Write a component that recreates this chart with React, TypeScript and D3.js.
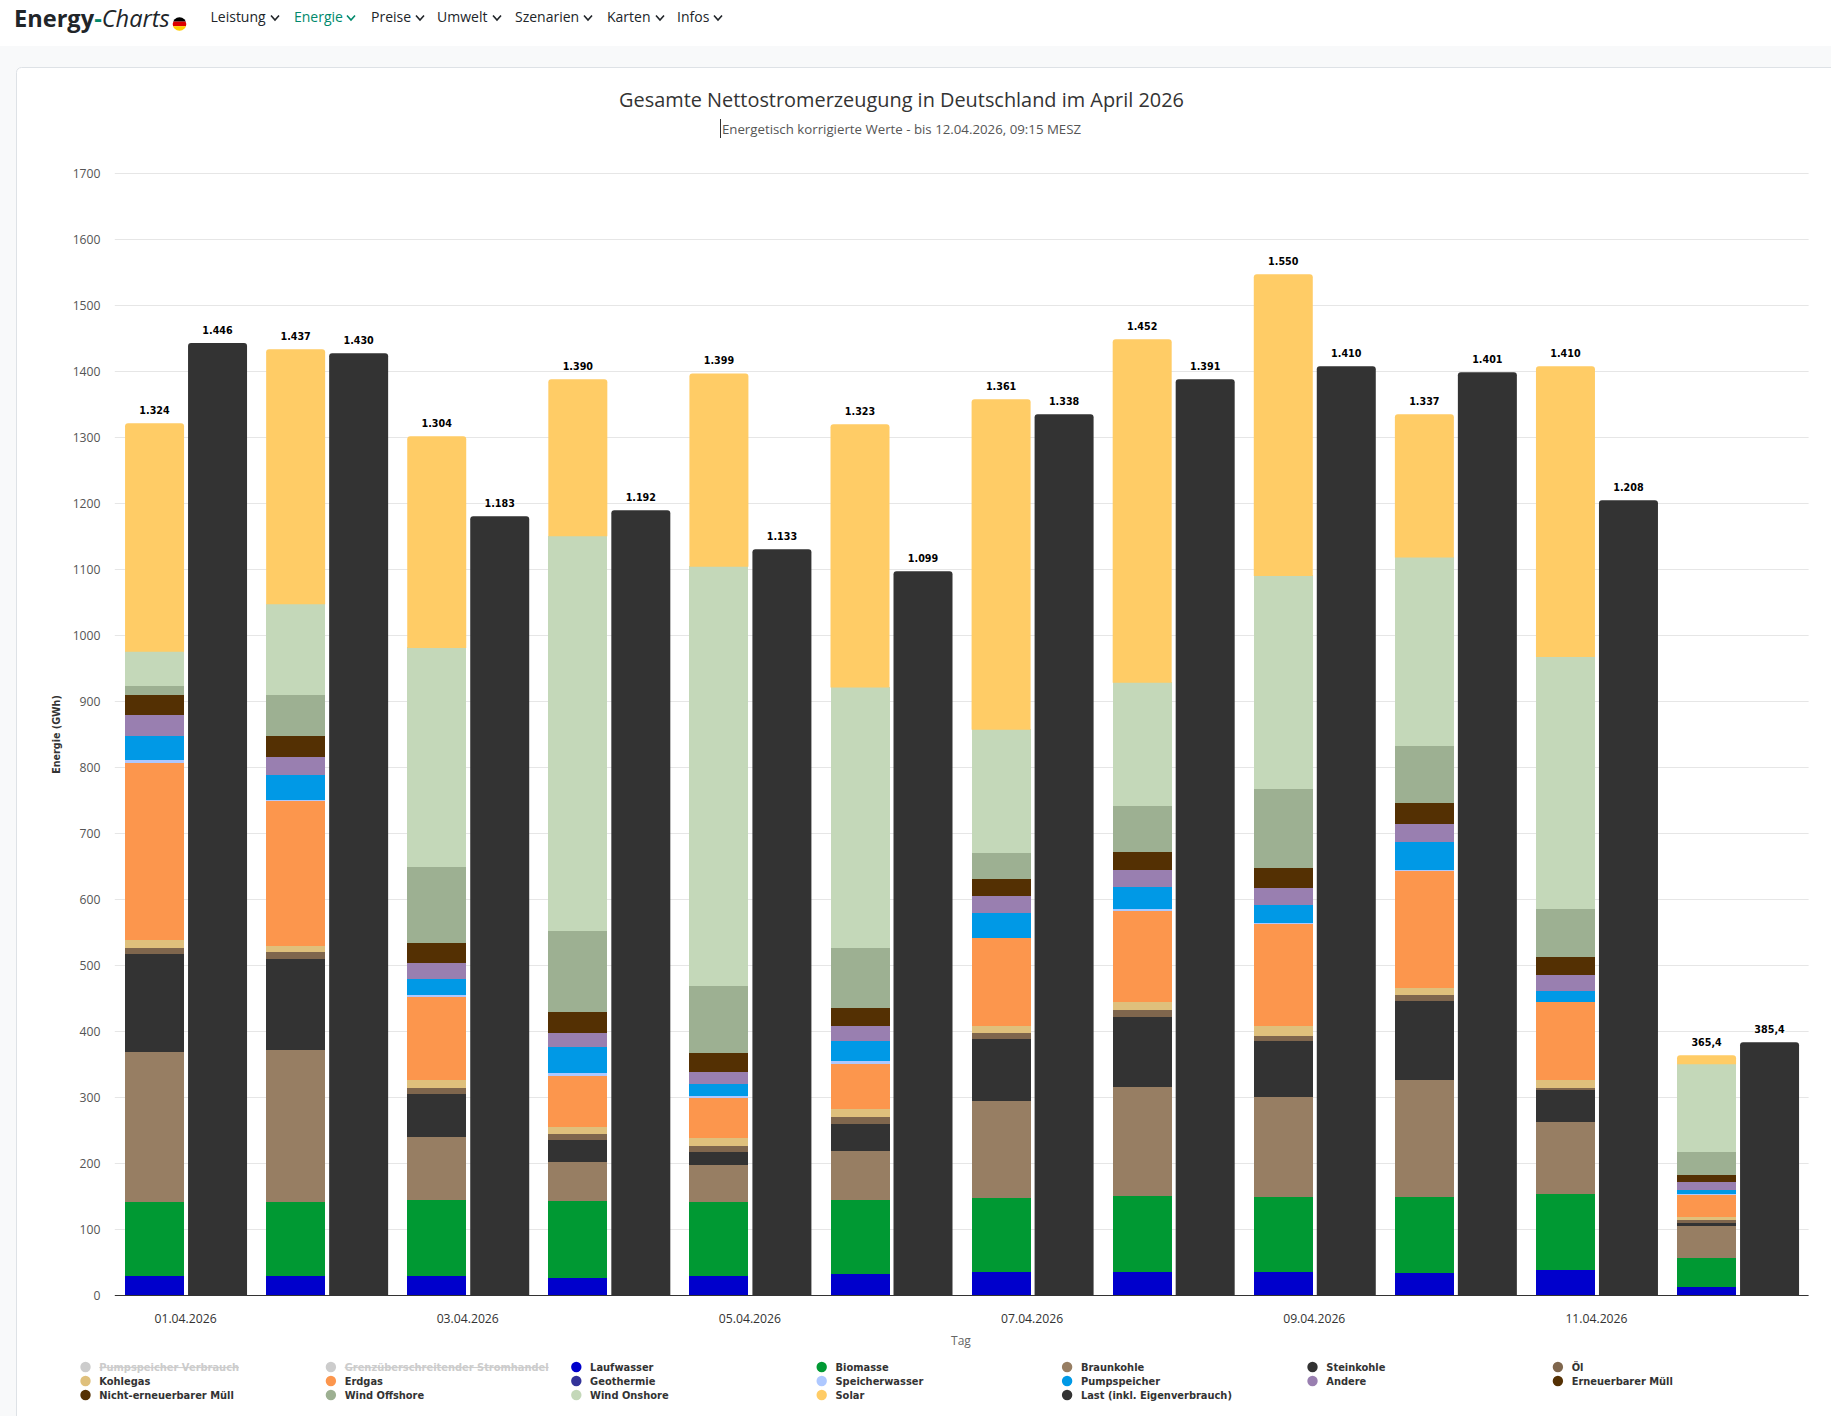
import React from "react";
import * as d3 from "d3";

const days = ["01.04.2026","02.04.2026","03.04.2026","04.04.2026","05.04.2026","06.04.2026","07.04.2026","08.04.2026","09.04.2026","10.04.2026","11.04.2026","12.04.2026"];
const axisDays = ["01.04.2026","03.04.2026","05.04.2026","07.04.2026","09.04.2026","11.04.2026"];
const yTicks = [0,100,200,300,400,500,600,700,800,900,1000,1100,1200,1300,1400,1500,1600,1700];

const laufwasser = [30,29,29,27,29,32,36,36,36,34,38,13.4];
const biomasse = [111,112,116,116,113,113,112,115,114,116,116,44];
const braunkohle = [228,231,95,60,56,74,147,165,151,177,109,47.2];
const steinkohle = [148,138,66,32,20,41,93,106,85,119,49,5.4];
const oel = [10,10,9,9,9,10,9,10,7,10,3,5];
const kohlegas = [12,10,12,12,12,12,12,12,15,10,12,3.6];
const erdgas = [268,220,126,77,61,69,132,139,154.5,177,117,34.4];
const geothermie = [0.5,0.5,0.5,0.5,0.5,0.5,0.5,0.5,0.5,0.5,0.5,0.2];
const speicherwasser = [3.5,0.5,2.5,3.5,2.5,3.5,0.5,1.5,1,1.5,0.5,0.3];
const pumpspeicher = [36,37,24,40,17,31,38,34,28,42,17,6.5];
const andere = [32,28,24,21,19,23,25,26,26,28,24,12];
const muellErneuerbar = [15.5,15.5,15,16,14,13.5,13,13.5,14.5,15.5,13.5,5.5];
const muellNichtErneuerbar = [15.5,15.5,15,16,14,13.5,13,13.5,14.5,15,13.5,5.5];
const windOffshore = [14,63,116,123,102,91,39,70,121,86.5,73,35];
const windOnshore = [52,138,332,598,636,395,188,187,323,287,382,133];
const solar = [345.7,385.8,320,237.3,292,398.2,500,520,456.4,216.3,440,13];
const last = [1443,1427.8,1180.8,1189.8,1130.8,1097.5,1335.3,1388.3,1408,1398.9,1205,383.8];
const erzeugungLabels = ["1.324","1.437","1.304","1.390","1.399","1.323","1.361","1.452","1.550","1.337","1.410","365,4"];
const lastLabels = ["1.446","1.430","1.183","1.192","1.133","1.099","1.338","1.391","1.410","1.401","1.208","385,4"];

const stackNames = ["Laufwasser","Biomasse","Braunkohle","Steinkohle","Öl","Kohlegas","Erdgas","Geothermie","Speicherwasser","Pumpspeicher","Andere","Erneuerbarer Müll","Nicht-erneuerbarer Müll","Wind Offshore","Wind Onshore","Solar"];
const stackValues = [laufwasser,biomasse,braunkohle,steinkohle,oel,kohlegas,erdgas,geothermie,speicherwasser,pumpspeicher,andere,muellErneuerbar,muellNichtErneuerbar,windOffshore,windOnshore,solar];
const stackColors = ["#0000cc","#009933","#977e63","#333333","#7f664d","#dfc07c","#fc964d","#aec8ff","#aec8ff","#0099e6","#997fb0","#543003","#543003","#9db092","#c4d8b9","#ffcc66"];
const lastColor = "#333333";

const legendNames = ["Pumpspeicher Verbrauch","Grenzüberschreitender Stromhandel","Laufwasser","Biomasse","Braunkohle","Steinkohle","Öl","Kohlegas","Erdgas","Geothermie","Speicherwasser","Pumpspeicher","Andere","Erneuerbarer Müll","Nicht-erneuerbarer Müll","Wind Offshore","Wind Onshore","Solar","Last (inkl. Eigenverbrauch)"];
const legendColors = ["#cccccc","#cccccc","#0000cc","#009933","#977e63","#333333","#7f664d","#dfc07c","#fc964d","#333399","#aec8ff","#0099e6","#997fb0","#543003","#543003","#9db092","#c4d8b9","#ffcc66","#333333"];
const legendDisabled = ["Pumpspeicher Verbrauch","Grenzüberschreitender Stromhandel"];

const navItems = ["Leistung","Energie","Preise","Umwelt","Szenarien","Karten","Infos"];
const navX = [210.5,294,371,437,515,607,677];
const navChevronX = [275,351,420,497,588,660,718];

const W = 1831, H = 1416;
const left = 115.5, right = 1808.6, top = 173.5, bottom = 1295.5;
const sans = "'Open Sans', sans-serif";
const dejavu = "'DejaVu Sans', sans-serif";

function topRounded(x: number, y: number, w: number, h: number, r: number) {
  const p = d3.path();
  const rr = Math.min(r, h);
  p.moveTo(x, y + h);
  p.lineTo(x, y + rr);
  p.quadraticCurveTo(x, y, x + rr, y);
  p.lineTo(x + w - rr, y);
  p.quadraticCurveTo(x + w, y, x + w, y + rr);
  p.lineTo(x + w, y + h);
  p.closePath();
  return p.toString();
}

export default function App() {
  const x = d3.scaleBand<string>().domain(days).range([left, right]);
  const inner = d3.scaleBand<string>().domain(["gen","load"]).range([9.55, x.bandwidth() - 9.55]).paddingInner(4 / 63);
  const y = d3.scaleLinear().domain([0, 1700]).range([bottom, top]);
  const rows = days.map((d, i) => {
    const o: Record<string, number> = {};
    stackNames.forEach((n, k) => { o[n] = stackValues[k][i]; });
    return o;
  });
  const stacked = d3.stack<Record<string, number>>().keys(stackNames)(rows);
  const bw = inner.bandwidth();

  return (
    <svg width={W} height={H} viewBox={`0 0 ${W} ${H}`} style={{ position: "absolute", left: 0, top: 0, display: "block" }}>
      <rect x={0} y={0} width={W} height={H} fill="#f8f9fa" />
      <rect x={0} y={0} width={W} height={46} fill="#ffffff" />
      <rect x={16.5} y={67.5} width={W} height={H} rx={5} fill="#ffffff" stroke="#dee2e6" strokeWidth={1} />

      <text x={14} y={27} fontFamily={sans} fontSize={23.6} fill="#212529">
        <tspan fontWeight={700}>Energy</tspan>
        <tspan fontWeight={700} fill="#00896c">-</tspan>
        <tspan fontStyle="italic" fontWeight={400} fill="#212529">Charts</tspan>
      </text>
      <g>
        <clipPath id="flag"><circle cx={179.5} cy={24} r={6.8} /></clipPath>
        <g clipPath="url(#flag)">
          <rect x={172} y={17} width={15} height={4.6} fill="#000000" />
          <rect x={172} y={21.6} width={15} height={4.6} fill="#dd0000" />
          <rect x={172} y={26.2} width={15} height={5} fill="#ffce00" />
        </g>
      </g>
      {navItems.map((n, i) => {
        const c = n === "Energie" ? "#00896c" : "#212529";
        const cx = navChevronX[i];
        return (
          <g key={n}>
            <text x={navX[i]} y={22} fontFamily={sans} fontSize={14} fill={c}>{n}</text>
            <path d={`M${cx - 4},15.5 L${cx},20 L${cx + 4},15.5`} fill="none" stroke={c} strokeWidth={1.6} />
          </g>
        );
      })}

      <text x={901.5} y={107} textAnchor="middle" fontFamily={sans} fontSize={19.9} fill="#333333">Gesamte Nettostromerzeugung in Deutschland im April 2026</text>
      <text x={901.5} y={134} textAnchor="middle" fontFamily={sans} fontSize={13.27} fill="#555555">Energetisch korrigierte Werte - bis 12.04.2026, 09:15 MESZ</text>
      <line x1={720.5} x2={720.5} y1={119} y2={138} stroke="#333333" strokeWidth={1} />

      {yTicks.map(t => (
        <g key={t}>
          {t > 0 && <line x1={left - 0.7} x2={right} y1={y(t)} y2={y(t)} stroke="#e6e6e6" strokeWidth={1.2} />}
          <text x={100.5} y={y(t) + 0.6} dy="0.35em" textAnchor="end" fontFamily={sans} fontSize={12.2} fill="#555555">{t}</text>
        </g>
      ))}

      {stacked.map((layer, k) => (
        <g key={stackNames[k]} fill={stackColors[k]}>
          {layer.map((seg, i) => {
            const bx = (x(days[i]) as number) + (inner("gen") as number);
            const yt = y(seg[1]), yb = y(seg[0]);
            return k === stacked.length - 1
              ? <path key={i} d={topRounded(bx, yt, bw, yb - yt + 0.5, 3)} />
              : <rect key={i} x={bx} y={yt} width={bw} height={yb - yt} shapeRendering="crispEdges" />;
          })}
        </g>
      ))}
      <g fill={lastColor}>
        {last.map((v, i) => (
          <path key={i} d={topRounded((x(days[i]) as number) + (inner("load") as number), y(v), bw, y(0) - y(v), 3)} />
        ))}
      </g>
      <line x1={left - 0.7} x2={right} y1={bottom} y2={bottom} stroke="#333333" strokeWidth={1.2} />

      {days.map((d, i) => {
        const genTop = stacked[stacked.length - 1][i][1];
        const gx = (x(d) as number) + (inner("gen") as number) + bw / 2;
        const lx = (x(d) as number) + (inner("load") as number) + bw / 2;
        const style = { paintOrder: "stroke" } as React.CSSProperties;
        return (
          <g key={d} fontFamily={dejavu} fontSize={9.6} fontWeight={700} fill="#000000" stroke="#ffffff" strokeWidth={2} textAnchor="middle" style={style}>
            <text x={gx} y={y(genTop) - 9.5}>{erzeugungLabels[i]}</text>
            <text x={lx} y={y(last[i]) - 9.5}>{lastLabels[i]}</text>
          </g>
        );
      })}

      {axisDays.map(d => (
        <text key={d} x={(x(d) as number) + x.bandwidth() / 2 - 0.5} y={1323} textAnchor="middle" fontFamily={sans} fontSize={12.2} fill="#333333">{d}</text>
      ))}
      <text x={961} y={1344.5} textAnchor="middle" fontFamily={sans} fontSize={12} fill="#666666">Tag</text>
      <text transform={`translate(60,${(top + bottom) / 2}) rotate(-90)`} textAnchor="middle" fontFamily={dejavu} fontSize={9.6} fontWeight={700} fill="#333333">Energie (GWh)</text>

      {legendNames.map((n, i) => {
        const col = i % 7, row = Math.floor(i / 7);
        const cx = 85.5 + col * 245.4, cy = 1367 + row * 14;
        const off = legendDisabled.includes(n);
        return (
          <g key={n}>
            <circle cx={cx} cy={cy} r={5.2} fill={legendColors[i]} />
            <text x={cx + 13.8} y={cy} dy="0.36em" fontFamily={dejavu} fontSize={9.9} fontWeight={700} fill={off ? "#cccccc" : "#333333"} textDecoration={off ? "line-through" : undefined}>{n}</text>
          </g>
        );
      })}
    </svg>
  );
}
